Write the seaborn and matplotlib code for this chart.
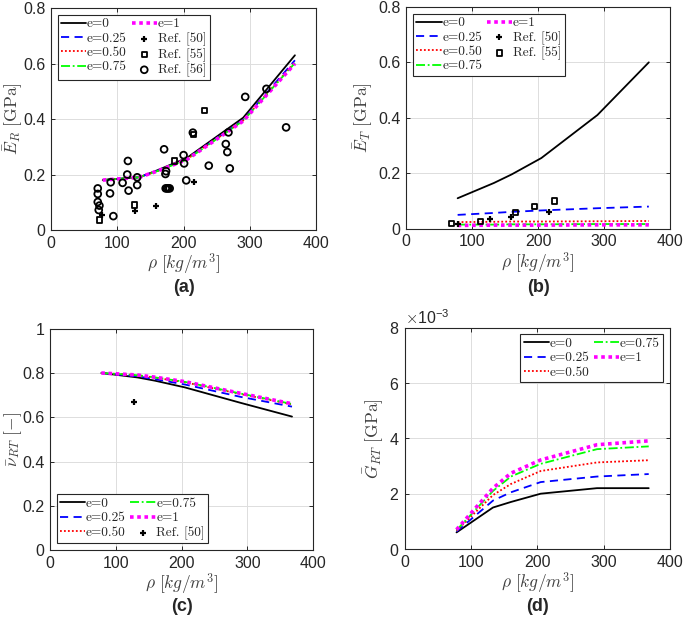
import matplotlib
matplotlib.use('Agg')
import matplotlib.pyplot as plt
import seaborn as sns
from matplotlib.ticker import ScalarFormatter, StrMethodFormatter

# model densities (kg/m^3)
rho = [78, 133, 160, 205, 290, 368]
e_labels = ['e=0', 'e=0.25', 'e=0.50', 'e=0.75', 'e=1']

# (a) E_R [GPa]
er_e0 = [0.180, 0.190, 0.215, 0.260, 0.405, 0.630]
er_e025 = [0.180, 0.190, 0.213, 0.256, 0.397, 0.612]
er_e050 = [0.180, 0.190, 0.212, 0.255, 0.395, 0.605]
er_e075 = [0.180, 0.190, 0.212, 0.254, 0.394, 0.602]
er_e1 = [0.180, 0.190, 0.212, 0.254, 0.393, 0.600]

# (b) E_T [GPa]
et_e0 = [0.110, 0.165, 0.196, 0.255, 0.410, 0.600]
et_e025 = [0.050, 0.057, 0.061, 0.066, 0.074, 0.080]
et_e050 = [0.024, 0.025, 0.026, 0.026, 0.027, 0.028]
et_e075 = [0.015, 0.015, 0.016, 0.016, 0.017, 0.017]
et_e1 = [0.012, 0.013, 0.013, 0.013, 0.014, 0.014]

# (c) nu_RT [-]
nu_e0 = [0.800, 0.780, 0.765, 0.735, 0.665, 0.603]
nu_e025 = [0.800, 0.785, 0.772, 0.748, 0.692, 0.648]
nu_e050 = [0.800, 0.790, 0.779, 0.758, 0.705, 0.658]
nu_e075 = [0.800, 0.790, 0.780, 0.760, 0.707, 0.660]
nu_e1 = [0.800, 0.791, 0.781, 0.761, 0.708, 0.661]

# (d) G_RT [GPa]
g_e0 = [0.60e-3, 1.50e-3, 1.70e-3, 2.00e-3, 2.20e-3, 2.20e-3]
g_e025 = [0.63e-3, 1.75e-3, 2.05e-3, 2.42e-3, 2.62e-3, 2.71e-3]
g_e050 = [0.66e-3, 1.95e-3, 2.35e-3, 2.82e-3, 3.13e-3, 3.21e-3]
g_e075 = [0.68e-3, 2.10e-3, 2.62e-3, 3.08e-3, 3.61e-3, 3.71e-3]
g_e1 = [0.70e-3, 2.20e-3, 2.74e-3, 3.22e-3, 3.77e-3, 3.91e-3]

# experimental references, panel (a)
a_ref50_x = [77.5, 126, 159, 216]
a_ref50_y = [0.054, 0.070, 0.088, 0.173]
a_ref55_x = [73.5, 126, 186, 215, 231.5]
a_ref55_y = [0.036, 0.090, 0.249, 0.345, 0.430]
a_ref56_x = [70.5, 70.5, 70.5, 73, 72, 90, 89, 94, 108, 116, 115, 117, 130, 130,
             170.6, 173.6, 172.6, 173, 175, 177, 179, 200, 200.8, 204, 214,
             238, 263.7, 266, 267.7, 269.7, 293, 325, 354.7]
a_ref56_y = [0.150, 0.130, 0.101, 0.088, 0.072, 0.172, 0.132, 0.050, 0.170, 0.249,
             0.200, 0.142, 0.190, 0.162, 0.291, 0.212, 0.202, 0.150, 0.150, 0.150,
             0.150, 0.270, 0.240, 0.179, 0.351, 0.232, 0.310, 0.281, 0.352, 0.222,
             0.480, 0.509, 0.370]

# panel (b)
b_ref50_x = [78, 127, 159, 217]
b_ref50_y = [0.016, 0.034, 0.042, 0.062]
b_ref55_x = [69, 113, 166, 194, 225]
b_ref55_y = [0.020, 0.026, 0.059, 0.080, 0.100]

# panel (c)
c_ref50_x = [127]
c_ref50_y = [0.667]

sns.set_style('ticks')
plt.rcParams['font.family'] = ['Liberation Sans', 'DejaVu Sans']
plt.rcParams['mathtext.fontset'] = 'cm'

styles = [
    dict(color='black', linestyle='-', linewidth=1.3),
    dict(color='#0000FF', linestyle=(0, (4.5, 3)), linewidth=1.3),
    dict(color='#FF0000', linestyle=(0, (1, 1.2)), linewidth=1.3),
    dict(color='#00FF00', linestyle=(0, (5, 1.5, 1, 1.5)), linewidth=1.3),
    dict(color='#FF00FF', linestyle=(0, (1, 1)), linewidth=2.6),
]


def draw_models(ax, series):
    for lab, vals, st in zip(e_labels, series, styles):
        sns.lineplot(x=rho, y=vals, ax=ax, label=lab, **st)


def refs(ax, x, y, kind, label):
    if kind == 'o':
        sns.scatterplot(x=x, y=y, ax=ax, marker='o', s=24, facecolors='none',
                        edgecolors='black', linewidth=1.3, label=label, zorder=3)
    elif kind == 's':
        sns.scatterplot(x=x, y=y, ax=ax, marker='s', s=14, facecolors='none',
                        edgecolors='black', linewidth=1.3, label=label, zorder=3)
    else:
        sns.scatterplot(x=x, y=y, ax=ax, marker='+', s=20, color='black',
                        linewidth=1.6, label=label, zorder=3)


def style_axes(ax, ylabel, ylim, yticks, plain=True, ylab_x=None):
    ax.set_xlim(0, 400)
    ax.set_xticks([0, 100, 200, 300, 400])
    ax.set_ylim(*ylim)
    ax.set_yticks(yticks)
    if plain:
        ax.yaxis.set_major_formatter(StrMethodFormatter('{x:g}'))
    ax.grid(True, color='#dddddd', linewidth=0.7)
    ax.set_axisbelow(True)
    ax.tick_params(direction='in', top=True, right=True, labelsize=11.5,
                   length=3, width=0.7, color='#262626', pad=4)
    for sp in ax.spines.values():
        sp.set_linewidth(0.8)
        sp.set_color('#262626')
    ax.set_xlabel(r'$\rho\ [kg/m^3]$', fontsize=12.5, color='#404040', labelpad=1)
    ax.set_ylabel(ylabel, fontsize=12.5, color='#404040', labelpad=2)
    if ylab_x is not None:
        ax.yaxis.set_label_coords(ylab_x, 0.5)


def legend(ax, loc):
    leg = ax.legend(loc=loc, ncol=2, prop={'family': 'cmr10', 'size': 9.6},
                    handlelength=1.9, handletextpad=0.05, columnspacing=0.35,
                    labelspacing=0.15, borderpad=0.25, borderaxespad=0.5,
                    fancybox=False, framealpha=1, edgecolor='#262626')
    leg.get_frame().set_linewidth(0.8)


fig = plt.figure(figsize=(6.85, 6.25), dpi=100)
ax_a = fig.add_axes([0.0745, 0.632, 0.387, 0.355])
ax_b = fig.add_axes([0.593, 0.634, 0.385, 0.355])
ax_c = fig.add_axes([0.073, 0.12, 0.384, 0.354])
ax_d = fig.add_axes([0.591, 0.1216, 0.387, 0.354])

# (a)
draw_models(ax_a, [er_e0, er_e025, er_e050, er_e075, er_e1])
refs(ax_a, a_ref50_x, a_ref50_y, '+', 'Ref. [50]')
refs(ax_a, a_ref55_x, a_ref55_y, 's', 'Ref. [55]')
refs(ax_a, a_ref56_x, a_ref56_y, 'o', 'Ref. [56]')
style_axes(ax_a, r'$\bar{E}_R\ [\mathrm{GPa}]$', (0, 0.8), [0, 0.2, 0.4, 0.6, 0.8],
           ylab_x=-0.1)
legend(ax_a, 'upper left')

# (b)
draw_models(ax_b, [et_e0, et_e025, et_e050, et_e075, et_e1])
refs(ax_b, b_ref50_x, b_ref50_y, '+', 'Ref. [50]')
refs(ax_b, b_ref55_x, b_ref55_y, 's', 'Ref. [55]')
style_axes(ax_b, r'$\bar{E}_T\ [\mathrm{GPa}]$', (0, 0.8), [0, 0.2, 0.4, 0.6, 0.8])
legend(ax_b, 'upper left')

# (c)
draw_models(ax_c, [nu_e0, nu_e025, nu_e050, nu_e075, nu_e1])
refs(ax_c, c_ref50_x, c_ref50_y, '+', 'Ref. [50]')
style_axes(ax_c, r'$\bar{\nu}_{RT}\ [-]$', (0, 1), [0, 0.2, 0.4, 0.6, 0.8, 1],
           ylab_x=-0.1)
legend(ax_c, 'lower left')

# (d)
draw_models(ax_d, [g_e0, g_e025, g_e050, g_e075, g_e1])
style_axes(ax_d, r'$\bar{G}_{RT}\ [\mathrm{GPa}]$', (0, 8e-3),
           [0, 2e-3, 4e-3, 6e-3, 8e-3], plain=False)
fmt = ScalarFormatter(useMathText=True)
fmt.set_powerlimits((-2, 2))
ax_d.yaxis.set_major_formatter(fmt)
ax_d.yaxis.get_offset_text().set_fontsize(11.5)
legend(ax_d, 'upper right')

for ax, lab in zip([ax_a, ax_b, ax_c, ax_d], ['(a)', '(b)', '(c)', '(d)']):
    pos = ax.get_position()
    y = 0.540 if pos.y0 > 0.5 else 0.030
    fig.text(pos.x0 + pos.width / 2, y, lab, ha='center', va='center',
             fontsize=13, fontweight='bold')

fig.savefig('out.png', dpi=100)
